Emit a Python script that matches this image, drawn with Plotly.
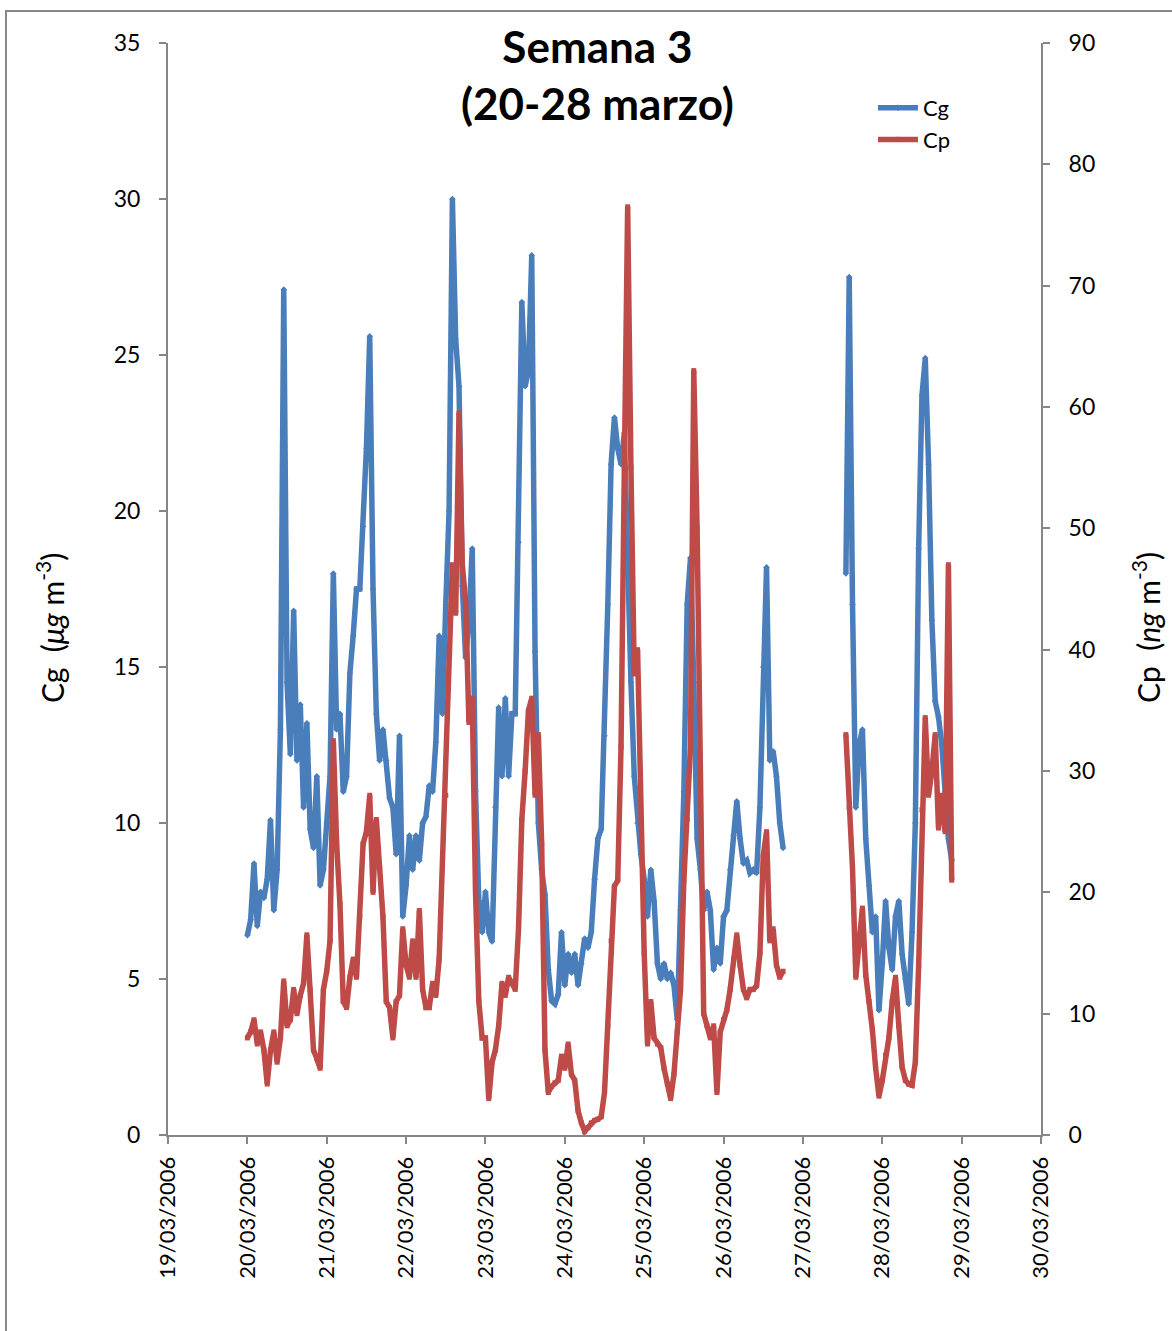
import pandas as pd
import plotly.graph_objects as go

# Measurement series (hourly), two sampling periods
start_1 = "2006-03-20 00:00"
start_2 = "2006-03-27 13:00"

cg_1 = [6.4, 6.9, 8.7, 6.7, 7.8, 7.6, 8.2, 10.1, 7.2, 8.5, 13, 27.1, 14.5, 12.2, 16.8, 12,
        13.8, 10.5, 13.2, 9.8, 9.2, 11.5, 8, 8.5, 10, 11.5, 18, 13, 13.5, 11, 11.5, 14.8,
        16, 17.5, 17.5, 19.5, 22, 25.6, 17.5, 13.5, 12, 13, 12, 10.8, 10.5, 9, 12.8, 7,
        8, 9.6, 8.5, 9.6, 8.8, 10, 10.2, 11.2, 11, 12.6, 16, 13.5, 17, 20, 30, 25.5,
        24, 17.6, 15.3, 16.5, 18.8, 11, 7.5, 6.5, 7.8, 6.5, 6.2, 10.5, 13.7, 11.5, 14, 11.5,
        13.5, 13.5, 19, 26.7, 24, 24.5, 28.2, 15.5, 10, 8.5, 7.7, 5.3, 4.3, 4.2, 4.5, 6.5,
        4.8, 5.8, 5.2, 5.8, 4.8, 5.5, 6.3, 6, 6.5, 8.2, 9.5, 9.8, 12.8, 17, 21.5, 23,
        22, 21.5, 22.5, 18, 14.5, 11.5, 10, 9, 8.2, 7, 8.5, 7.5, 5.5, 5, 5.5, 5,
        5.2, 4.8, 3.7, 7.2, 11, 17, 18.5, 14.5, 9.5, 8.5, 7.2, 7.8, 7.2, 5.3, 6, 5.5,
        7, 7.2, 8.5, 9.6, 10.7, 9.5, 8.7, 8.8, 8.4, 8.5, 8.4, 10.5, 15, 18.2, 12, 12.3,
        11.5, 10, 9.2]

cp_1 = [8, 8.5, 9.5, 7.5, 8.5, 7, 4.2, 7, 8.5, 6, 8, 12.7, 9, 9.5, 12, 10,
        11.5, 12.5, 16.5, 12, 7, 6.3, 5.5, 12, 13.5, 16, 32.5, 24, 19, 11, 10.5, 13,
        14.5, 13, 18, 24, 25, 28, 20, 26, 22, 18, 11, 10.5, 8, 11, 11.5, 17,
        14, 13, 16, 13, 18.5, 12, 10.5, 10.5, 12.5, 11.5, 14.5, 23, 28, 40, 47, 43,
        59.5, 47, 44, 34, 36, 20, 11, 8, 8, 3, 6, 7, 9, 12.5, 11.5, 13,
        12.5, 12, 17, 26, 30, 35, 36, 28, 33, 24, 7, 3.5, 4, 4.3, 4.5, 6.5,
        5.5, 7.5, 5, 4.5, 2, 1, 0.3, 0.6, 1, 1.2, 1.3, 1.5, 3.5, 9, 16, 20.5,
        21, 32, 55, 76.5, 55, 38, 40, 26, 15, 7.5, 11, 8, 7.5, 7.2, 5.5, 4.2,
        3, 5, 8.5, 12, 21, 26, 32, 63, 50, 30, 10, 9, 8, 9, 3.5, 8.5,
        9.5, 10.3, 12, 14.5, 16.5, 14, 12, 11.3, 12, 12, 12.3, 15, 23, 25, 16, 17,
        14, 13, 13.5]

cg_2 = [18, 27.5, 17, 10.5, 12.5, 13, 9.5, 8, 6.5, 7, 4, 5.5, 7.5, 6, 5.3, 7,
        7.5, 5.8, 5, 4.2, 6.5, 10, 18.8, 23.7, 24.9, 21.5, 16.5, 13.9, 13.4, 12.5, 11, 9.5,
        8.8]

cp_2 = [33, 27, 22, 13, 16, 18.7, 13.2, 11, 8.7, 5.5, 3.2, 4.5, 6.6, 8, 11, 13,
        9, 5.6, 4.5, 4.2, 4.1, 6, 14, 26.8, 34.4, 28, 30, 33, 25.3, 28, 25, 47,
        21]

# Axis tick definitions
x_range = ["2006-03-19", "2006-03-30"]
cg_range = [0, 35]
cp_range = [0, 90]

t1 = list(pd.date_range(start_1, periods=len(cg_1), freq="h"))
t2 = list(pd.date_range(start_2, periods=len(cg_2), freq="h"))
times = t1 + [None] + t2
cg = cg_1 + [None] + cg_2
cp = cp_1 + [None] + cp_2

BLUE = "#4A7EBB"
RED = "#BE4B48"
AX = "#868686"
FONT = "Lato, 'Open Sans', sans-serif"

fig = go.Figure()
fig.add_trace(go.Scatter(
    x=times, y=cg, name="Cg", mode="lines+markers",
    line=dict(color=BLUE, width=5.5),
    marker=dict(symbol="diamond", size=5, color=BLUE),
    connectgaps=False, yaxis="y"))
fig.add_trace(go.Scatter(
    x=times, y=cp, name="Cp", mode="lines+markers",
    line=dict(color=RED, width=5.5),
    marker=dict(symbol="square", size=5, color=RED),
    connectgaps=False, yaxis="y2"))

L, R, T, B = 168, 131, 43, 196
W, H = 1172, 1331
pw, ph = W - L - R, H - T - B

def px(xp):
    return (xp - L) / pw

def py(yp):
    return (H - B - yp) / ph

fig.update_layout(
    width=W, height=H,
    margin=dict(l=L, r=R, t=T, b=B),
    paper_bgcolor="white", plot_bgcolor="white",
    font=dict(family=FONT, size=23, color="black"),
    showlegend=True,
    legend=dict(x=px(873), y=py(87), xanchor="left", yanchor="top",
                bgcolor="rgba(0,0,0,0)", font=dict(size=22),
                itemwidth=40, tracegroupgap=0),
    xaxis=dict(type="date", range=x_range, dtick=86400000,
               tick0="2006-03-19", tickformat="%d/%m/%Y", tickangle=-90,
               showgrid=False, zeroline=False, showline=True, linecolor=AX, linewidth=2,
               ticks="outside", ticklen=7, tickcolor=AX, tickwidth=1.5,
               tickfont=dict(size=22), ticklabelstandoff=4),
    yaxis=dict(range=cg_range, dtick=5, showgrid=False, zeroline=False,
               showline=True, linecolor=AX, linewidth=2,
               ticks="outside", ticklen=7, tickcolor=AX, tickwidth=1.5,
               tickfont=dict(size=23), ticklabelstandoff=14),
    yaxis2=dict(range=cp_range, dtick=10, overlaying="y", side="right",
                showgrid=False, zeroline=False, showline=True, linecolor=AX, linewidth=2,
                ticks="outside", ticklen=7, tickcolor=AX, tickwidth=1.5,
                tickfont=dict(size=23), ticklabelstandoff=14),
)

fig.add_annotation(x=px(597), y=py(74), xref="paper", yref="paper",
                   xanchor="center", yanchor="middle",
                   text="<b>Semana 3<br>(20-28 marzo)</b>", showarrow=False,
                   font=dict(size=44, family=FONT), align="center")
fig.add_annotation(x=px(50), y=py(628), xref="paper", yref="paper",
                   xanchor="center", yanchor="middle",
                   text="Cg  (<i>μg</i> m<sup>-3</sup>)", showarrow=False, textangle=-90,
                   font=dict(size=30, family=FONT))
fig.add_annotation(x=px(1146), y=py(628), xref="paper", yref="paper",
                   xanchor="center", yanchor="middle",
                   text="Cp  (<i>ng</i> m<sup>-3</sup>)", showarrow=False, textangle=-90,
                   font=dict(size=30, family=FONT))

fig.add_shape(type="rect", xref="paper", yref="paper",
              x0=px(6), y0=py(1400), x1=px(1240), y1=py(11),
              line=dict(color="#888888", width=2), fillcolor="rgba(0,0,0,0)", layer="below")

fig.write_html("out.html")
